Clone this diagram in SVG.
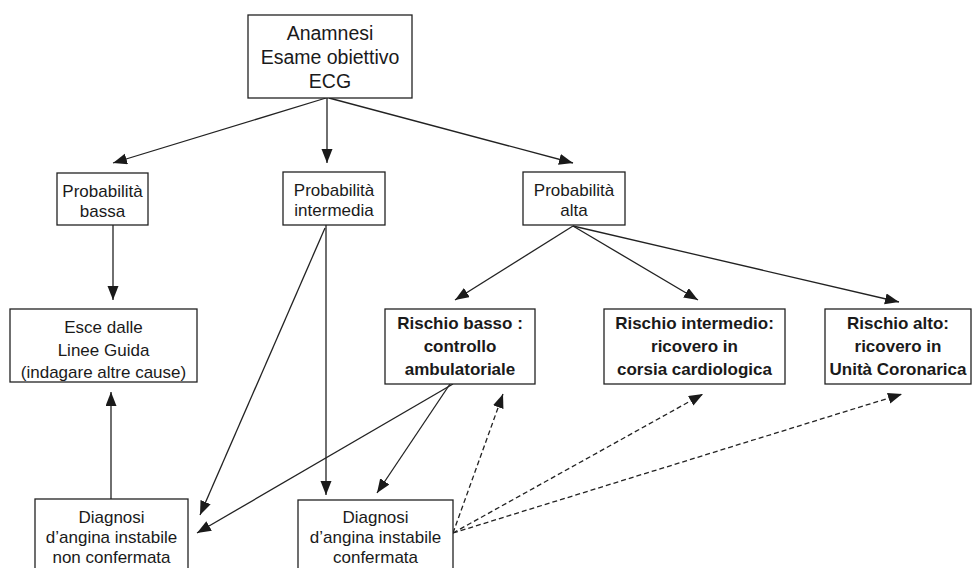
<svg xmlns="http://www.w3.org/2000/svg" width="973" height="568" viewBox="0 0 973 568">
<style>
.box{fill:#fff;stroke:#222;stroke-width:1.3}
.t{font-family:"Liberation Sans",Arial,sans-serif;fill:#1a1a1a;text-anchor:middle}
.big{font-size:19.5px}
.n{font-size:17px}
.b{font-size:17px;font-weight:bold}
.c{fill:none;stroke:#222;stroke-width:1.3}
.d{stroke-dasharray:5 3}
</style>
<defs>
<marker id="ah" markerUnits="userSpaceOnUse" markerWidth="15" markerHeight="12" refX="14" refY="5.5" orient="auto">
<path d="M0,0 L14,5.5 L0,11 z" fill="#1a1a1a"/>
</marker>
</defs>
<rect width="973" height="568" fill="#fff"/>
<g id="connectors">
<line class="c" x1="326" y1="98" x2="113" y2="163" marker-end="url(#ah)"/>
<line class="c" x1="327" y1="98" x2="327" y2="163" marker-end="url(#ah)"/>
<line class="c" x1="329" y1="98" x2="573" y2="163" marker-end="url(#ah)"/>
<line class="c" x1="113" y1="225" x2="113" y2="300" marker-end="url(#ah)"/>
<line class="c" x1="111" y1="499" x2="111" y2="392" marker-end="url(#ah)"/>
<line class="c" x1="325" y1="228" x2="200" y2="515" marker-end="url(#ah)"/>
<line class="c" x1="326" y1="225" x2="326" y2="495" marker-end="url(#ah)"/>
<line class="c" x1="453" y1="384" x2="197" y2="533" marker-end="url(#ah)"/>
<line class="c" x1="450" y1="384" x2="377" y2="493" marker-end="url(#ah)"/>
<line class="c" x1="573" y1="226" x2="455" y2="300" marker-end="url(#ah)"/>
<line class="c" x1="573" y1="226" x2="698" y2="300" marker-end="url(#ah)"/>
<line class="c" x1="573" y1="226" x2="899" y2="302" marker-end="url(#ah)"/>
<line class="c d" x1="453" y1="533" x2="503" y2="394" marker-end="url(#ah)"/>
<line class="c d" x1="453" y1="533" x2="703" y2="394" marker-end="url(#ah)"/>
<line class="c d" x1="453" y1="533" x2="902" y2="394" marker-end="url(#ah)"/>
</g>
<g id="n-anamnesi">
<rect class="box" x="248" y="15" width="164" height="83"/>
<text class="t big" x="330" y="40">Anamnesi</text>
<text class="t big" x="330" y="64">Esame obiettivo</text>
<text class="t big" x="330" y="88">ECG</text>
</g>
<g id="n-prob-bassa">
<rect class="box" x="57" y="173" width="91" height="52"/>
<text class="t n" x="102.5" y="197">Probabilità</text>
<text class="t n" x="102.5" y="217">bassa</text>
</g>
<g id="n-prob-intermedia">
<rect class="box" x="283" y="172" width="102" height="53"/>
<text class="t n" x="334" y="196">Probabilità</text>
<text class="t n" x="334" y="216">intermedia</text>
</g>
<g id="n-prob-alta">
<rect class="box" x="523" y="172" width="102" height="53"/>
<text class="t n" x="574" y="196">Probabilità</text>
<text class="t n" x="574" y="216">alta</text>
</g>
<g id="n-esce">
<rect class="box" x="10" y="309" width="187" height="73"/>
<text class="t n" x="103.5" y="333">Esce dalle</text>
<text class="t n" x="103.5" y="356">Linee Guida</text>
<text class="t n" x="103.5" y="378">(indagare altre cause)</text>
</g>
<g id="n-rischio-basso">
<rect class="box" x="385" y="309" width="150" height="75"/>
<text class="t b" x="460" y="329">Rischio basso :</text>
<text class="t b" x="460" y="352">controllo</text>
<text class="t b" x="460" y="375">ambulatoriale</text>
</g>
<g id="n-rischio-intermedio">
<rect class="box" x="604" y="309" width="181" height="75"/>
<text class="t b" x="694.5" y="329">Rischio intermedio:</text>
<text class="t b" x="694.5" y="352">ricovero in</text>
<text class="t b" x="694.5" y="375">corsia cardiologica</text>
</g>
<g id="n-rischio-alto">
<rect class="box" x="825" y="309" width="146" height="75"/>
<text class="t b" x="898" y="329">Rischio alto:</text>
<text class="t b" x="898" y="352">ricovero in</text>
<text class="t b" x="898" y="375">Unità Coronarica</text>
</g>
<g id="n-non-confermata">
<rect class="box" x="35" y="499" width="153" height="70"/>
<text class="t n" x="111.5" y="523">Diagnosi</text>
<text class="t n" x="111.5" y="543">d’angina instabile</text>
<text class="t n" x="111.5" y="563">non confermata</text>
</g>
<g id="n-confermata">
<rect class="box" x="298" y="500" width="155" height="69"/>
<text class="t n" x="375.5" y="523">Diagnosi</text>
<text class="t n" x="375.5" y="543">d’angina instabile</text>
<text class="t n" x="375.5" y="563">confermata</text>
</g>
</svg>
